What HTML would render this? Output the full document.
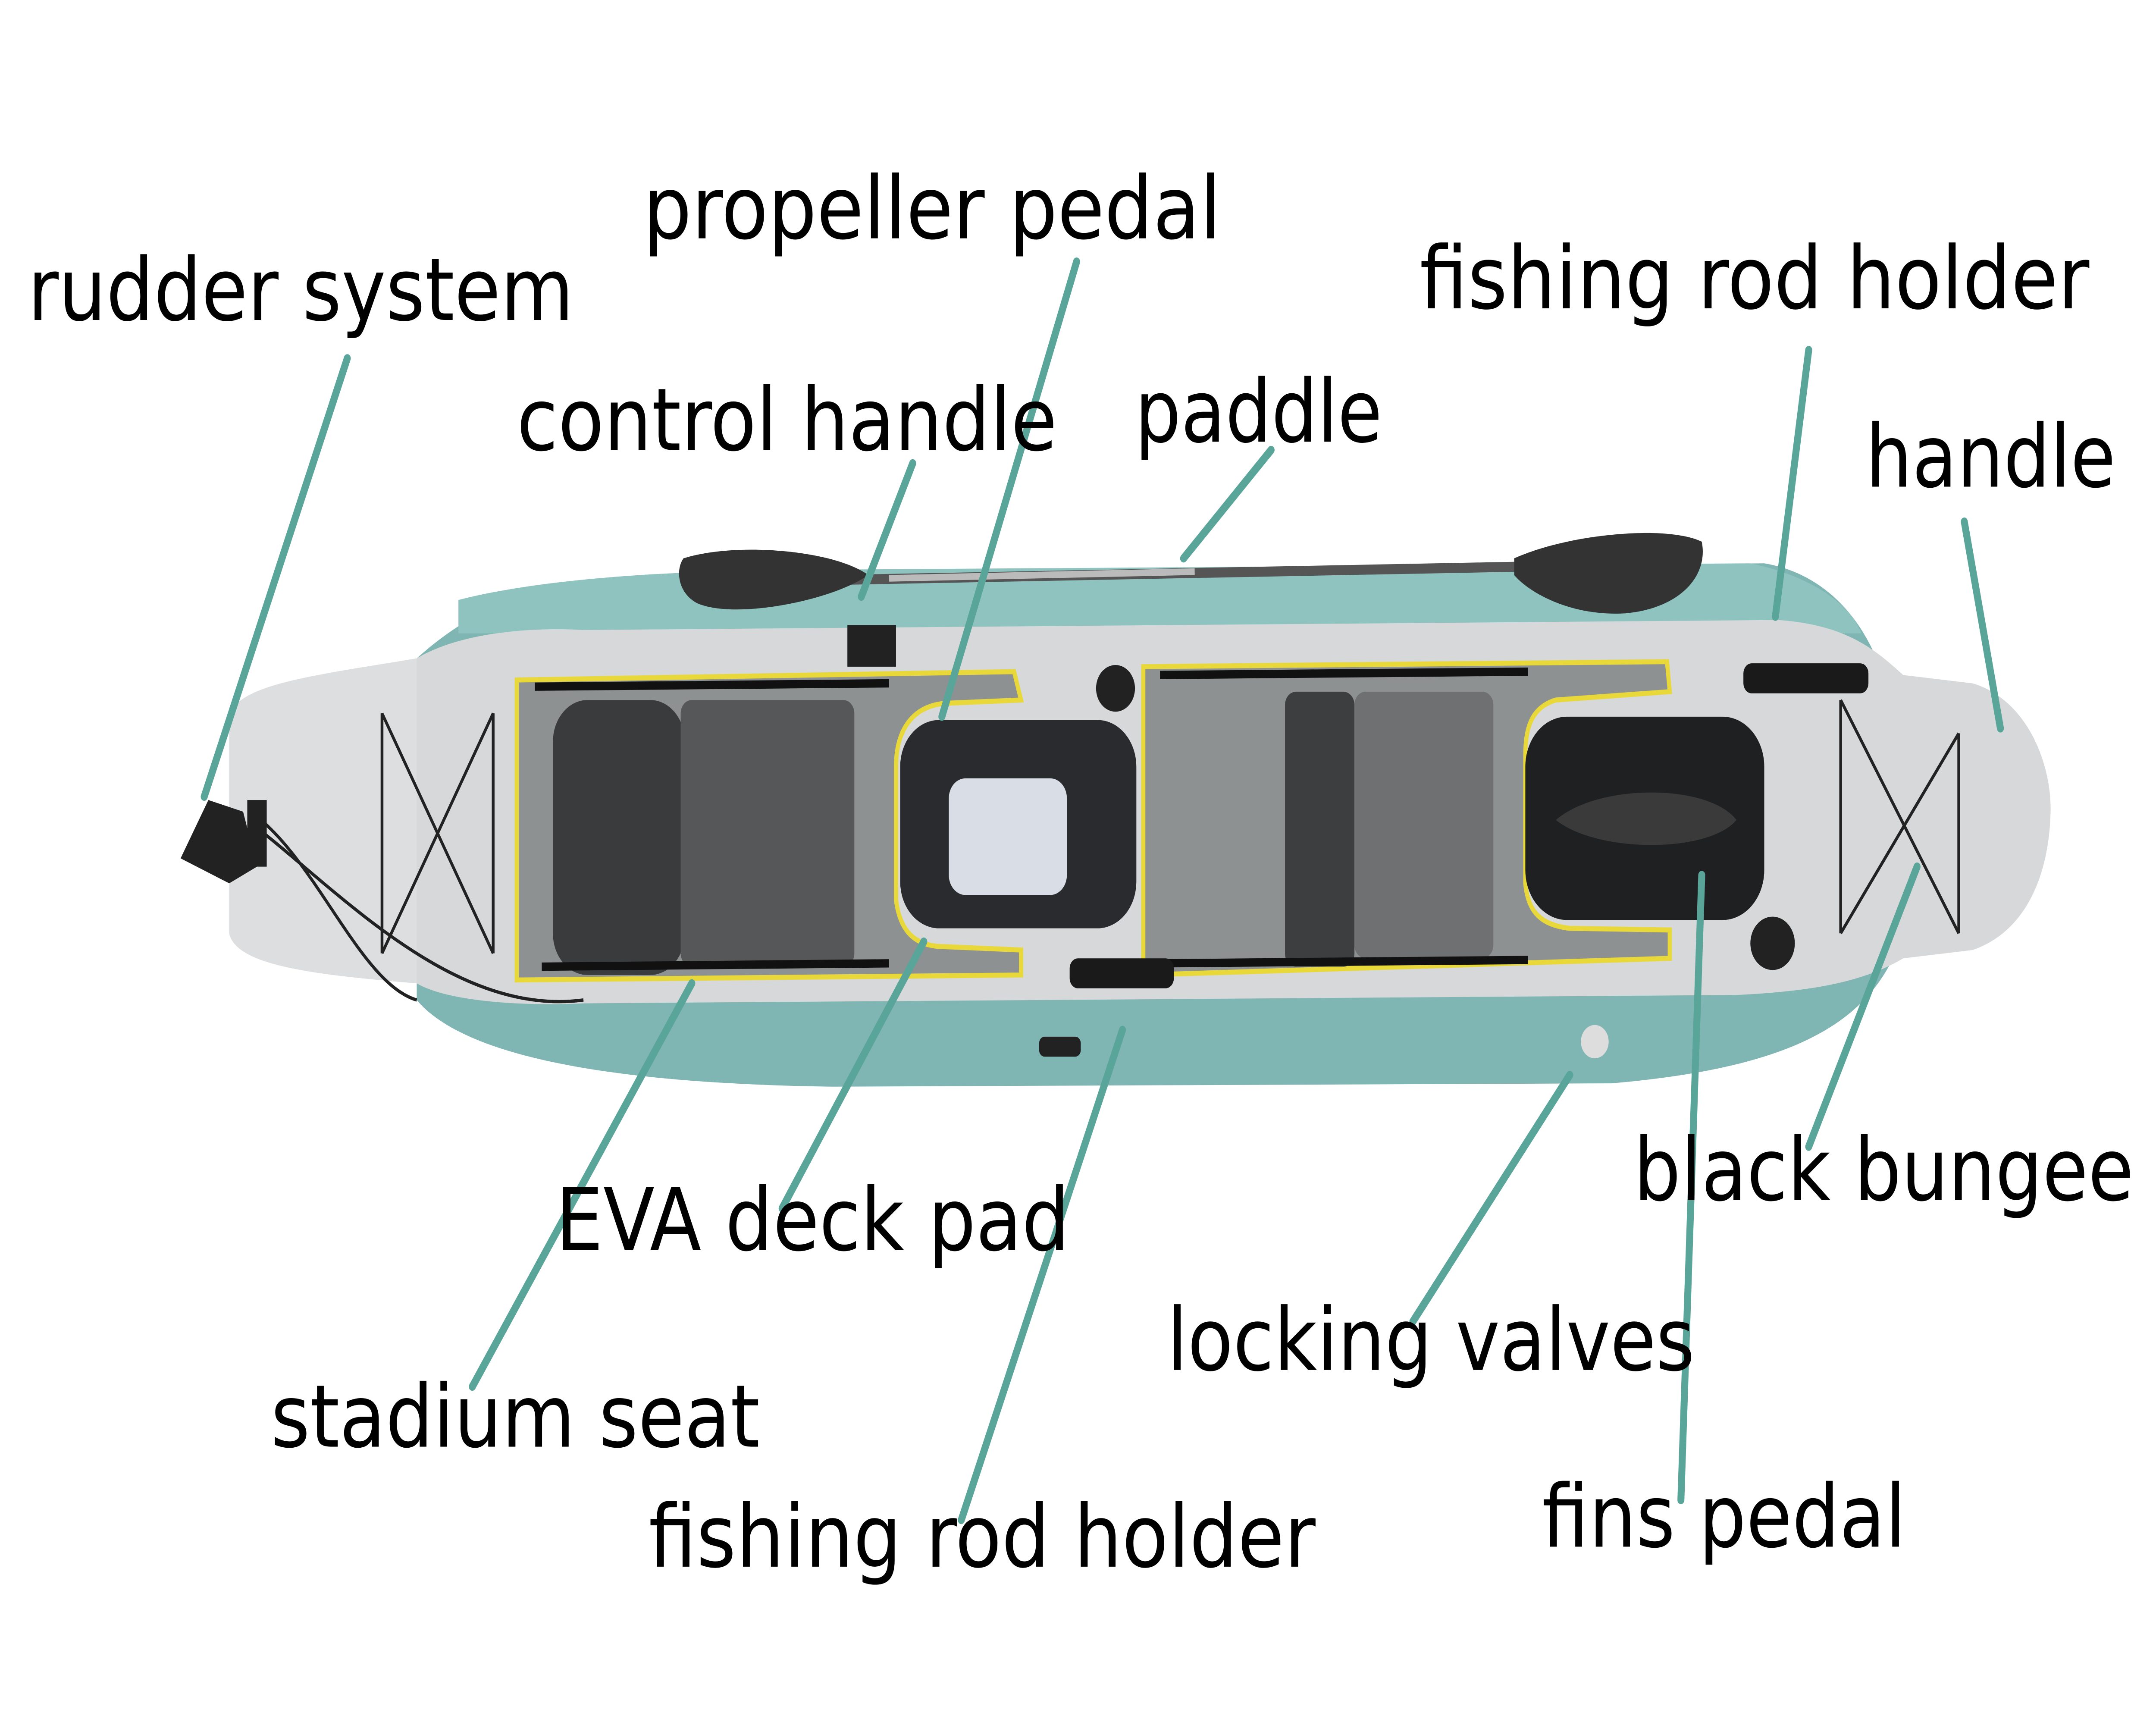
<!DOCTYPE html>
<html><head><style>html,body{margin:0;padding:0;background:#fff;overflow:hidden;width:100%;height:100%}svg{display:block;position:fixed;left:0;top:0;width:100vw;height:100vh}</style></head>
<body>
<svg viewBox="0 0 1552 1035" preserveAspectRatio="none" xmlns="http://www.w3.org/2000/svg">
<rect width="1552" height="1035" fill="#fff"/>
<path d="M300,395 C360,350 420,345 520,343 L1270,338 C1320,345 1350,380 1360,420 L1370,560 C1350,610 1300,640 1160,650 L600,652 C420,650 330,630 300,600 Z" fill="#7fb5b2"/>
<path d="M330,360 C400,345 500,343 560,342 L1260,338 C1300,345 1330,360 1340,380 L330,380 Z" fill="#8ec3bf"/>
<path d="M165,430 C170,410 230,405 300,395 C330,380 380,376 420,378 L1280,372 C1330,375 1350,390 1370,405 L1420,410 C1460,420 1478,460 1476,490 C1474,530 1455,560 1420,570 L1370,575 C1340,590 1300,595 1250,597 L420,602 C370,604 320,600 300,590 C230,585 170,580 165,560 Z" fill="#d6d8d9"/>
<path d="M165,430 C170,410 230,405 300,395 L300,590 C230,585 170,580 165,560 Z" fill="#dcdedf"/>
<g stroke="#222" stroke-width="2" fill="none">
<path d="M275,428 L355,572 M355,428 L275,572 M275,428 L275,572 M355,428 L355,572"/>
<path d="M1325,420 L1410,560 M1410,440 L1325,560 M1325,420 L1325,560 M1410,440 L1410,560"/>
<path d="M185,490 C230,520 260,590 300,600 M190,500 C250,540 330,610 420,600"/>
</g>
<path d="M372,408 L730,403 L735,420 L680,422 C655,424 645,440 645,460 L645,540 C648,560 660,568 680,568 L735,570 L735,585 L372,588 Z" fill="#8e9192" stroke="#e8d83a" stroke-width="3"/>
<path d="M823,400 L1200,397 L1202,415 L1120,420 C1100,425 1098,440 1098,455 L1098,530 C1100,548 1110,555 1130,557 L1202,558 L1202,575 L823,585 Z" fill="#8e9192" stroke="#e8d83a" stroke-width="3"/>
<rect x="648" y="432" width="170" height="125" rx="28" fill="#2a2b2e"/>
<rect x="683" y="467" width="85" height="70" rx="12" fill="#d8dde6"/>
<rect x="1098" y="430" width="172" height="122" rx="30" fill="#1f2022"/>
<path d="M1120,492 C1150,470 1230,470 1250,492 C1230,512 1150,512 1120,492 Z" fill="#3a3a3a"/>
<rect x="398" y="420" width="95" height="165" rx="25" fill="#3a3b3c"/>
<rect x="490" y="420" width="125" height="160" rx="8" fill="#555758"/>
<rect x="925" y="415" width="50" height="165" rx="8" fill="#3d3e40"/>
<rect x="975" y="415" width="100" height="160" rx="8" fill="#6e7072"/>
<g stroke="#111" stroke-width="5">
<line x1="385" y1="412" x2="640" y2="410"/><line x1="390" y1="580" x2="640" y2="578"/>
<line x1="835" y1="405" x2="1100" y2="403"/><line x1="835" y1="578" x2="1100" y2="576"/>
</g>
<line x1="600" y1="348" x2="1095" y2="340" stroke="#555" stroke-width="6"/>
<line x1="640" y1="347" x2="860" y2="343" stroke="#bbb" stroke-width="4"/>
<path d="M492,335 C530,325 600,330 625,345 C600,360 530,372 502,362 C488,356 486,342 492,335 Z" fill="#333"/>
<path d="M1090,335 C1130,320 1200,315 1225,325 C1230,345 1210,365 1170,368 C1130,370 1100,355 1090,345 Z" fill="#333"/>
<circle cx="803" cy="413" r="14" fill="#222"/><circle cx="1276" cy="566" r="16" fill="#222"/>
<rect x="1255" y="398" width="90" height="18" rx="6" fill="#1a1a1a"/>
<rect x="770" y="575" width="75" height="18" rx="6" fill="#1a1a1a"/>
<rect x="610" y="375" width="35" height="25" fill="#222"/>
<path d="M130,515 L150,480 L175,487 L185,520 L165,530 Z" fill="#222"/>
<rect x="178" y="480" width="14" height="40" fill="#222"/>
<rect x="748" y="622" width="30" height="12" rx="4" fill="#222"/>
<circle cx="1148" cy="625" r="10" fill="#ddd"/>
<g stroke="#5aa59a" stroke-width="5" stroke-linecap="round" fill="none">
<line x1="250" y1="215" x2="147" y2="478"/>
<line x1="775" y1="157" x2="678" y2="430"/>
<line x1="657" y1="278" x2="620" y2="358"/>
<line x1="915" y1="270" x2="852" y2="335"/>
<line x1="1302" y1="210" x2="1278" y2="370"/>
<line x1="1414" y1="313" x2="1440" y2="437"/>
<line x1="1380" y1="520" x2="1302" y2="688"/>
<line x1="1130" y1="645" x2="1017" y2="793"/>
<line x1="1225" y1="525" x2="1210" y2="900"/>
<line x1="808" y1="618" x2="692" y2="912"/>
<line x1="665" y1="565" x2="563" y2="725"/>
<line x1="498" y1="590" x2="340" y2="832"/>
</g>
<g font-family="'DejaVu Sans','Liberation Sans',sans-serif" font-size="52" fill="#000">
<text x="20" y="192" textLength="393" lengthAdjust="spacingAndGlyphs">rudder system</text>
<text x="463" y="143" textLength="416" lengthAdjust="spacingAndGlyphs">propeller pedal</text>
<text x="1022" y="185" textLength="482" lengthAdjust="spacingAndGlyphs">fishing rod holder</text>
<text x="372" y="270" textLength="389" lengthAdjust="spacingAndGlyphs">control handle</text>
<text x="817" y="265" textLength="178" lengthAdjust="spacingAndGlyphs">paddle</text>
<text x="1343" y="292" textLength="180" lengthAdjust="spacingAndGlyphs">handle</text>
<text x="1176" y="720" textLength="360" lengthAdjust="spacingAndGlyphs">black bungee</text>
<text x="400" y="750" textLength="370" lengthAdjust="spacingAndGlyphs">EVA deck pad</text>
<text x="840" y="822" textLength="380" lengthAdjust="spacingAndGlyphs">locking valves</text>
<text x="195" y="868" textLength="352" lengthAdjust="spacingAndGlyphs">stadium seat</text>
<text x="1110" y="928" textLength="262" lengthAdjust="spacingAndGlyphs">fins pedal</text>
<text x="467" y="940" textLength="480" lengthAdjust="spacingAndGlyphs">fishing rod holder</text>
</g>
</svg>
</body></html>
